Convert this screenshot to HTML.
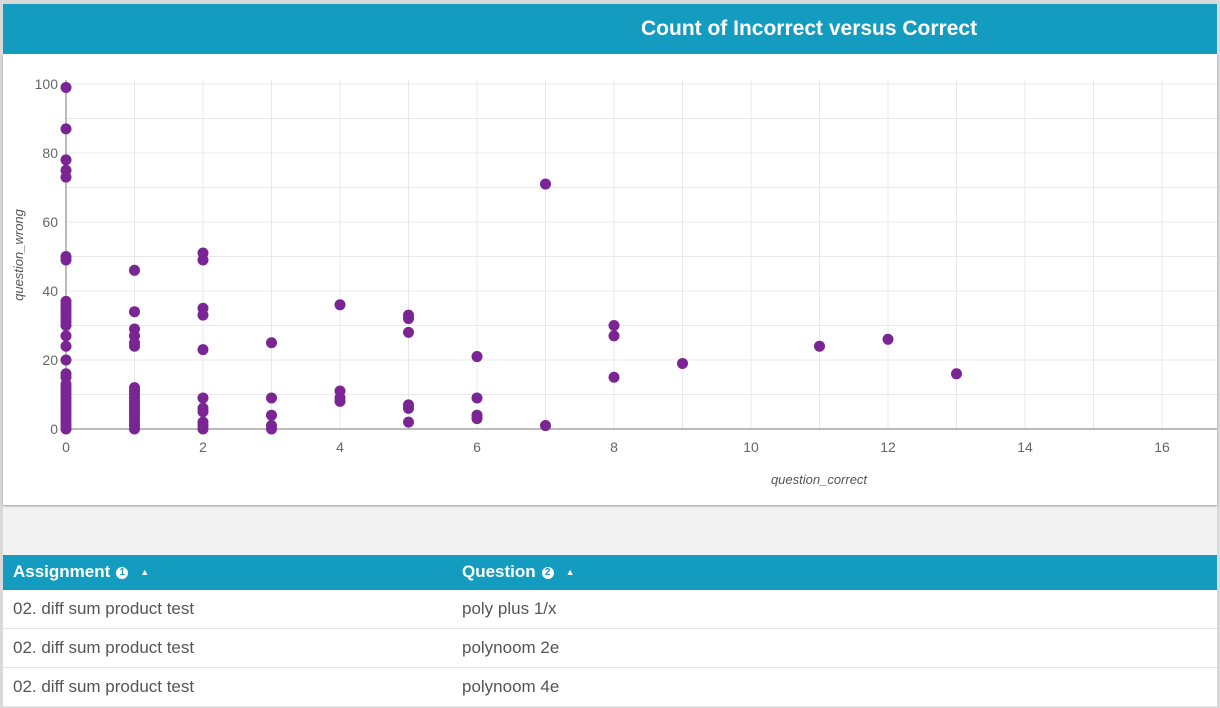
<!DOCTYPE html>
<html><head><meta charset="utf-8"><style>
body{margin:0;width:1220px;height:708px;background:#d9d9d9;font-family:"Liberation Sans",sans-serif;overflow:hidden;position:relative}
#wrap{position:absolute;left:3px;top:4px;width:1214px;height:702px;background:#f2f2f2}
#hdr{position:absolute;left:0;top:0;width:1214px;height:50px;background:#139bc0;color:#fff;font-weight:bold;font-size:21px;line-height:50px}
#hdr span{position:absolute;left:638px}
#card{position:absolute;left:0;top:50px;width:1214px;height:451px;background:#fff;box-shadow:0 1px 2px #999}
#tbl{position:absolute;left:0;top:551px;width:1214px}
.th{height:35px;background:#139bc0;color:#fff;font-weight:bold;font-size:17px;line-height:33px;position:relative}
.row{height:38px;background:#fff;border-bottom:1px solid #e6e6e6;font-size:17px;color:#555;line-height:38px;position:relative}
.c1{position:absolute;left:10px}.c2{position:absolute;left:459px}
.ic{display:inline-block;width:12px;height:12px;border-radius:50%;background:#fff;color:#139bc0;font-size:10px;line-height:12px;text-align:center;vertical-align:middle;margin-left:6px}
.ar{font-size:9px;margin-left:12px;vertical-align:middle}
</style></head><body>
<div id="wrap">
<div id="hdr"><span>Count of Incorrect versus Correct</span></div>
<div id="card"></div>
<div id="tbl">
<div class="th"><span class="c1">Assignment<span class="ic">1</span><span class="ar">▲</span></span><span class="c2">Question<span class="ic">2</span><span class="ar">▲</span></span></div>
<div class="row"><span class="c1">02. diff sum product test</span><span class="c2">poly plus 1/x</span></div>
<div class="row"><span class="c1">02. diff sum product test</span><span class="c2">polynoom 2e</span></div>
<div class="row"><span class="c1">02. diff sum product test</span><span class="c2">polynoom 4e</span></div>
</div>
</div>
<svg id="s" width="1220" height="708" style="position:absolute;left:0;top:0" xmlns="http://www.w3.org/2000/svg"></svg>
<script>
var s=document.getElementById('s'),h='';
function X(v){return 66+v*68.5}function Y(v){return 429-v*3.45}
for(var i=0;i<=100;i+=10)h+='<line x1="66" x2="1217" y1="'+Y(i)+'" y2="'+Y(i)+'" stroke="#e8e8e8"/>';
for(var i=1;i<=16.8;i++)h+='<line x1="'+X(i)+'" x2="'+X(i)+'" y1="80" y2="429" stroke="#e8e8e8"/>';
h+='<line x1="66" x2="66" y1="80" y2="429" stroke="#777"/><line x1="66" x2="1217" y1="429" y2="429" stroke="#777"/>';
for(var i=0;i<=100;i+=20)h+='<text x="58" y="'+(Y(i)+5)+'" text-anchor="end" font-size="14" fill="#666">'+i+'</text>';
for(var i=0;i<=16;i+=2)h+='<text x="'+X(i)+'" y="452" text-anchor="middle" font-size="14" fill="#666">'+i+'</text>';
h+='<text x="819" y="484" text-anchor="middle" font-size="13" font-style="italic" fill="#555">question_correct</text>';
h+='<text transform="translate(23,255) rotate(-90)" text-anchor="middle" font-size="13" font-style="italic" fill="#555">question_wrong</text>';
var d={0:[99,87,78,75,73,50,49,37,36,35,34,33,32,31,30,27,24,20,16,15,13,12,11,10,9,8,7,6,5,4,3,2,1,0],
1:[46,34,29,27,25,24,12,11,10,9,8,7,6,5,4,3,2,1,0],2:[51,49,35,33,23,9,6,5,2,1,0],3:[25,9,4,1,0],4:[36,11,9,8],
5:[33,32,28,7,6,2],6:[21,9,4,3],7:[71,1],8:[30,27,15],9:[19],11:[24],12:[26],13:[16]};
for(var k in d)d[k].forEach(function(v){h+='<circle cx="'+X(+k)+'" cy="'+Y(v)+'" r="5.5" fill="#7b2595"/>'});
s.innerHTML=h;
</script>
</body></html>
